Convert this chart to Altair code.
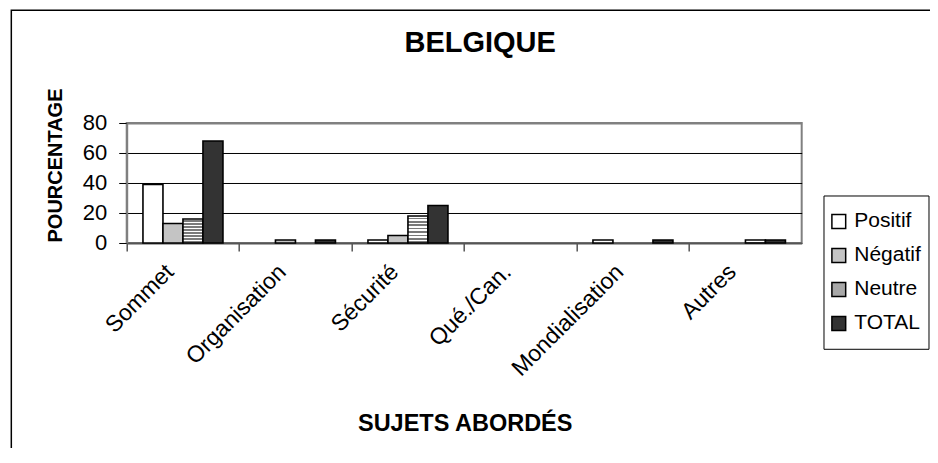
import altair as alt
import pandas as pd

categories = ["Sommet", "Organisation", "Sécurité", "Qué./Can.", "Mondialisation", "Autres"]
types = ["Positif", "Négatif", "Neutre", "TOTAL"]
positif = [39, 0, 2, 0, 2, 0]
negatif = [13, 2, 5, 0, 0, 0]
neutre = [16, 0, 18, 0, 0, 2]
total = [68, 2, 25, 0, 2, 2]
y_ticks = [0, 20, 40, 60, 80]

rows = []
for t, vals in zip(types, [positif, negatif, neutre, total]):
    for c, v in zip(categories, vals):
        rows.append({"Sujet": c, "Type": t, "Valeur": v})
df = pd.DataFrame(rows)

FONT = "Liberation Sans"

# horizontal stripes for "Neutre"
stops = []
n = 8
for i in range(n):
    a, m, b = i / n, (i + 0.5) / n, (i + 1) / n
    stops += [{"offset": a, "color": "#ffffff"}, {"offset": m, "color": "#ffffff"},
              {"offset": m, "color": "#7a7a7a"}, {"offset": b, "color": "#7a7a7a"}]
stripes = {"gradient": "linear", "x1": 0, "y1": 0, "x2": 0, "y2": 1, "stops": stops}

bars = alt.Chart(df).transform_filter("datum.Valeur > 0").mark_bar(
    stroke="black", strokeWidth=1.6
).encode(
    x=alt.X("Sujet:N", sort=categories,
            scale=alt.Scale(domain=categories, paddingInner=0, paddingOuter=0),
            axis=alt.Axis(title="SUJETS ABORDÉS", bandPosition=0,
                          labelAngle=315, labelAlign="right", labelBaseline="middle",
                          labelOffset=-13, labelPadding=17, labelFontSize=23,
                          labelFont=FONT, labelColor="black",
                          tickSize=8, tickColor="#555555", tickWidth=1.5,
                          domainColor="#555555", domainWidth=2,
                          titleFont=FONT, titleFontSize=23.5, titleFontWeight="bold",
                          titleColor="black", titleX=338, titleY=188,
                          titleBaseline="alphabetic", titleAlign="center",
                          grid=False)),
    xOffset=alt.XOffset("Type:N", sort=types,
                        scale=alt.Scale(paddingInner=0, paddingOuter=0.8125)),
    y=alt.Y("Valeur:Q", scale=alt.Scale(domain=[0, 80], nice=False),
            axis=alt.Axis(title="POURCENTAGE", values=y_ticks,
                          labelFontSize=22, labelFont=FONT, labelColor="black",
                          labelPadding=12, tickSize=8, tickColor="black",
                          domainColor="#808080", domainWidth=2,
                          grid=True,
                          gridColor=alt.condition("datum.value === 80", alt.value("#808080"), alt.value("black")),
                          gridWidth=alt.condition("datum.value === 80", alt.value(2), alt.value(1)),
                          titleFont=FONT, titleFontSize=20, titleFontWeight="bold",
                          titleColor="black", titleAngle=270, titleX=-65, titleY=42,
                          titleAlign="center", titleBaseline="alphabetic")),
    fill=alt.condition("datum.Type === 'Neutre'", alt.value(stripes),
                       alt.Fill("Type:N", sort=types,
                                scale=alt.Scale(domain=types,
                                                range=["#ffffff", "#c4c4c4", "#a8a8a8", "#333333"]),
                                legend=alt.Legend(title=None, orient="none",
                                                  legendX=701.6, legendY=88,
                                                  symbolType="square", symbolSize=190,
                                                  symbolStrokeColor="black", symbolStrokeWidth=1.5,
                                                  symbolOpacity=1,
                                                  labelFont=FONT, labelFontSize=21,
                                                  labelColor="black", labelOffset=5,
                                                  rowPadding=12, padding=0))),
)

one = pd.DataFrame({"a": [0]})
outer = alt.Chart(one).mark_rect(fill="white", fillOpacity=0, stroke="black", strokeWidth=1.5).encode(
    x=alt.value(-115.4), x2=alt.value(1000), y=alt.value(-112.7), y2=alt.value(1000))
legend_box = alt.Chart(one).mark_rect(fill="white", fillOpacity=0, stroke="black", strokeWidth=1).encode(
    x=alt.value(697.3), x2=alt.value(802.3), y=alt.value(73), y2=alt.value(226.3))

chart = alt.layer(outer, bars, legend_box).properties(
    width=675, height=120,
    title=alt.TitleParams("BELGIQUE", font=FONT, fontSize=29, fontWeight="bold",
                          color="black", anchor="middle", frame="group", dx=16,
                          baseline="alphabetic", offset=-71),
    autosize="none",
    padding={"left": 118.7, "top": 115, "right": 128.3, "bottom": 204.7},
    background="white",
).configure_view(stroke="#808080", strokeWidth=2)

chart.save("out.html", embed_options={"renderer": "svg", "actions": False})
